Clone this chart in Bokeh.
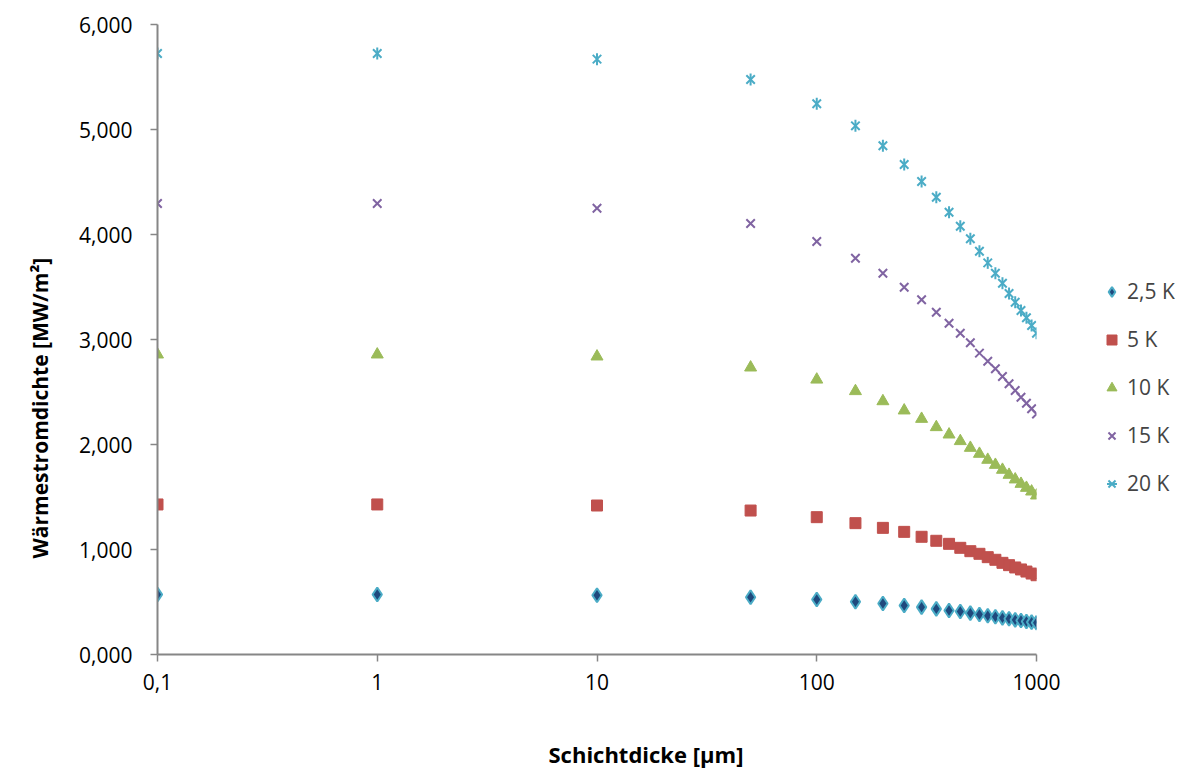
import numpy as np
from bokeh.plotting import figure
from bokeh.models import (Range1d, Legend, LegendItem, FixedTicker, CustomJSTickFormatter,
                          Title, ColumnDataSource)
from bokeh.embed import file_html
from bokeh.resources import INLINE

# Schichtdicke [µm]
thickness = [0.1, 1, 10, 50, 100, 150, 200, 250, 300, 350, 400, 450, 500,
             550, 600, 650, 700, 750, 800, 850, 900, 950, 1000]

# Wärmestromdichte [MW/m²]
q_2_5K = [0.571, 0.571, 0.564, 0.545, 0.524, 0.502, 0.486, 0.467, 0.451, 0.435, 0.419, 0.410,
          0.394, 0.381, 0.369, 0.359, 0.349, 0.340, 0.330, 0.324, 0.314, 0.308, 0.302]
q_5K = [1.429, 1.429, 1.419, 1.371, 1.308, 1.251, 1.206, 1.168, 1.121, 1.083, 1.054, 1.016,
        0.984, 0.959, 0.927, 0.902, 0.873, 0.851, 0.829, 0.810, 0.790, 0.771, 0.755]
q_10K = [2.857, 2.857, 2.838, 2.733, 2.618, 2.508, 2.412, 2.324, 2.244, 2.165, 2.095, 2.032,
         1.968, 1.911, 1.854, 1.806, 1.759, 1.711, 1.667, 1.625, 1.587, 1.552, 1.514]
q_15K = [4.295, 4.295, 4.250, 4.105, 3.933, 3.774, 3.631, 3.498, 3.378, 3.260, 3.155, 3.060,
         2.969, 2.870, 2.793, 2.721, 2.648, 2.578, 2.514, 2.450, 2.393, 2.340, 2.290]
q_20K = [5.724, 5.724, 5.670, 5.476, 5.245, 5.035, 4.845, 4.667, 4.505, 4.355, 4.212, 4.079,
         3.959, 3.841, 3.730, 3.631, 3.536, 3.438, 3.355, 3.276, 3.207, 3.133, 3.060]

series_names = ["2,5 K", "5 K", "10 K", "15 K", "20 K"]
x_ticks = [0.1, 1, 10, 100, 1000]
y_ticks = [0, 1, 2, 3, 4, 5, 6]

FONT = "Open Sans"
AX = "#868686"

p = figure(frame_width=879, frame_height=630, x_axis_type="log", output_backend="svg",
           toolbar_location=None, x_range=Range1d(0.1, 1000), y_range=Range1d(0, 6),
           min_border_left=157, min_border_right=148, min_border_top=24, min_border_bottom=118)
p.outline_line_color = None
p.xgrid.grid_line_color = None
p.ygrid.grid_line_color = None
p.background_fill_color = "white"
p.border_fill_color = "white"

for ax in (p.xaxis[0], p.yaxis[0]):
    ax.axis_line_color = AX
    ax.axis_line_width = 2
    ax.major_tick_line_color = AX
    ax.major_tick_line_width = 1.5
    ax.major_tick_in = 0
    ax.major_tick_out = 7
    ax.minor_tick_line_color = None
    ax.major_label_text_font = FONT
    ax.major_label_text_font_size = "21px"
    ax.major_label_text_color = "black"

p.xaxis.ticker = FixedTicker(ticks=x_ticks)
p.yaxis.ticker = FixedTicker(ticks=y_ticks)
p.xaxis.formatter = CustomJSTickFormatter(code="return String(tick).replace('.', ',');")
p.yaxis.formatter = CustomJSTickFormatter(code="return tick.toFixed(3).replace('.', ',');")
p.xaxis.major_label_standoff = 12
p.yaxis.major_label_standoff = 18

src = ColumnDataSource(dict(x=thickness, a=q_2_5K, b=q_5K, c=q_10K, d=q_15K, e=q_20K))

r1 = p.scatter("x", "a", source=src, marker="diamond", size=14, fill_color="#1F497D",
               line_color="#4BACC6", line_width=2)
r2 = p.scatter("x", "b", source=src, marker="square", size=11, fill_color="#C0504D",
               line_color="#C0504D")
r3 = p.scatter("x", "c", source=src, marker="triangle", size=12, fill_color="#9BBB59",
               line_color="#9BBB59")
r4 = p.scatter("x", "d", source=src, marker="x", size=12, line_color="#8064A2", line_width=2)
r5a = p.scatter("x", "e", source=src, marker="x", size=12, line_color="#4BACC6", line_width=2)
r5b = p.scatter("x", "e", source=src, marker="dash", angle=np.pi / 2, size=12,
                line_color="#4BACC6", line_width=2)

legend = Legend(items=[
    LegendItem(label=series_names[0], renderers=[r1]),
    LegendItem(label=series_names[1], renderers=[r2]),
    LegendItem(label=series_names[2], renderers=[r3]),
    LegendItem(label=series_names[3], renderers=[r4]),
    LegendItem(label=series_names[4], renderers=[r5a, r5b]),
], location=(63, 157), orientation="vertical")
legend.label_text_font = FONT
legend.label_text_font_size = "21px"
legend.glyph_width = 25
legend.glyph_height = 25
legend.label_height = 25
legend.spacing = 20
legend.label_standoff = 3
legend.border_line_color = None
legend.background_fill_alpha = 0
legend.padding = 0
legend.margin = 0
p.add_layout(legend, "right")

ytitle = Title(text="Wärmestromdichte [MW/m²]", align="left", offset=96, standoff=45,
               text_font=FONT, text_font_size="21px", text_font_style="bold",
               text_color="black")
p.add_layout(ytitle, "left")

xtitle = Title(text="Schichtdicke [µm]", align="left", offset=391, standoff=88,
               text_font=FONT, text_font_size="22px", text_font_style="bold",
               text_color="black")
p.add_layout(xtitle, "below")

open("out.html", "w").write(file_html(p, INLINE))
